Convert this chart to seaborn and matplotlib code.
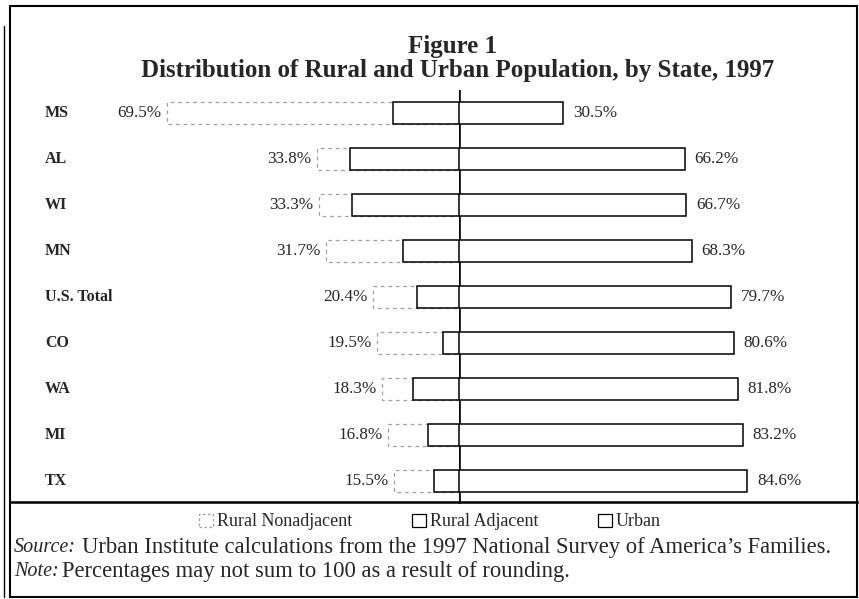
import matplotlib
matplotlib.use('Agg')
import matplotlib.pyplot as plt
from matplotlib.patches import Patch, Rectangle
from matplotlib.lines import Line2D
import seaborn as sns
import pandas as pd

# data
states = ['MS', 'AL', 'WI', 'MN', 'U.S. Total', 'CO', 'WA', 'MI', 'TX']
rural_total = [69.5, 33.8, 33.3, 31.7, 20.4, 19.5, 18.3, 16.8, 15.5]
urban = [30.5, 66.2, 66.7, 68.3, 79.7, 80.6, 81.8, 83.2, 84.6]
# bar segments as drawn
rural_adjacent = [15.7, 26.0, 25.5, 13.3, 10.0, 3.9, 11.0, 7.4, 6.0]
rural_nonadjacent = [53.8, 7.8, 7.8, 18.4, 10.4, 15.6, 7.3, 9.4, 9.5]

df = pd.DataFrame({'state': states, 'adj': rural_adjacent, 'nonadj': rural_nonadjacent, 'urban': urban})
df['rural_bar'] = df['adj'] + df['nonadj']

sns.set_style('white')
plt.rcParams['font.family'] = ['Liberation Serif', 'DejaVu Serif']

W, H = 859, 599
fig = plt.figure(figsize=(W / 100, H / 100), dpi=100)

def fx(px):
    return px / W

def fy(px):
    return 1 - px / H

top_px, bot_px, mid_px = 90, 502, 459
axl = fig.add_axes([fx(10), fy(bot_px), fx(mid_px - 10), (bot_px - top_px) / H])
axr = fig.add_axes([fx(mid_px), fy(bot_px), fx(857 - mid_px), (bot_px - top_px) / H])

bw = 0.48
# rural side: total bar (nonadjacent part shows), adjacent on top
sns.barplot(data=df, x='rural_bar', y='state', orient='h', ax=axl, color='white',
            edgecolor='#a0a0a0', linewidth=0.9, linestyle=(0, (3, 3)), width=bw)
sns.barplot(data=df, x='adj', y='state', orient='h', ax=axl, color='white',
            edgecolor='black', linewidth=1.1, width=bw)
sns.barplot(data=df, x='urban', y='state', orient='h', ax=axr, color='white',
            edgecolor='black', linewidth=1.1, width=bw)

axl.set_xlim((mid_px - 10) / 4.2, 0)
axr.set_xlim(0, (857 - mid_px) / 3.41)
for ax in (axl, axr):
    ax.set_ylim(8.45, -0.49)
    ax.set_xlabel('')
    ax.set_ylabel('')
    ax.set_xticks([])
    ax.set_yticks([])
    ax.patch.set_alpha(0)
    for s in ('top', 'left', 'right'):
        ax.spines[s].set_visible(False)
    ax.spines['bottom'].set_linewidth(1.8)
    ax.spines['bottom'].set_color('black')

# centre line
axr.axvline(0, color='black', lw=2.6, zorder=0)

lab_x = (45 - 10) / (mid_px - 10)
for i, st in enumerate(states):
    axl.text(lab_x, i, st, transform=axl.get_yaxis_transform(), ha='left', va='center',
             fontsize=11.5, fontweight='bold')
    axl.annotate(f'{rural_total[i]}%', xy=(df['rural_bar'][i], i), xytext=(-4, 0),
                 textcoords='offset points', ha='right', va='center', fontsize=12.3)
    axr.annotate(f'{urban[i]}%', xy=(urban[i], i), xytext=(7, 0),
                 textcoords='offset points', ha='left', va='center', fontsize=12.3)

fig.text(fx(452), fy(46), 'Figure 1', ha='center', va='center', fontsize=18, fontweight='bold')
fig.text(fx(458), fy(70), 'Distribution of Rural and Urban Population, by State, 1997',
         ha='center', va='center', fontsize=18, fontweight='bold')

handles = [Patch(facecolor='white', edgecolor='#a0a0a0', linestyle=(0, (2, 2)), lw=0.9),
           Patch(facecolor='white', edgecolor='black', lw=0.9),
           Patch(facecolor='white', edgecolor='black', lw=0.9)]
fig.legend(handles, ['Rural Nonadjacent', 'Rural Adjacent', 'Urban'], ncol=3,
           loc='center', bbox_to_anchor=(fx(430), fy(522)), frameon=False,
           fontsize=13, handlelength=0.8, handleheight=0.7, handletextpad=0.2,
           columnspacing=3.3)

fig.text(fx(14), fy(548), 'Source:', ha='left', va='center', fontsize=14.5, style='italic')
fig.text(fx(82), fy(548), "Urban Institute calculations from the 1997 National Survey of America\u2019s Families.",
         ha='left', va='center', fontsize=16.3)
fig.text(fx(14), fy(572), 'Note:', ha='left', va='center', fontsize=14.5, style='italic')
fig.text(fx(62), fy(572), 'Percentages may not sum to 100 as a result of rounding.',
         ha='left', va='center', fontsize=16.3)

# outer frame
fig.patches.append(Rectangle((fx(10), fy(597)), fx(847), (597 - 6) / H, transform=fig.transFigure,
                             fill=False, edgecolor='black', lw=1.5))
fig.lines.append(Line2D([fx(4), fx(4)], [fy(597), fy(26)], transform=fig.transFigure,
                        color='black', lw=1.0))

fig.savefig('out.png', dpi=100)
